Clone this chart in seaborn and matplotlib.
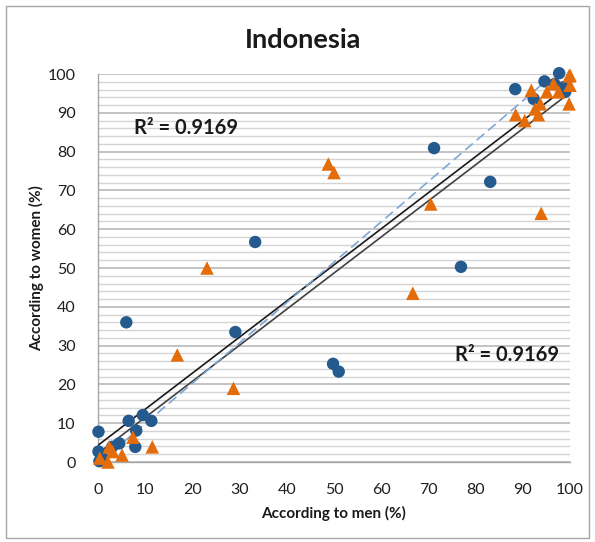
import matplotlib
matplotlib.use("Agg")
import matplotlib.pyplot as plt
import matplotlib.patches as patches
from matplotlib.ticker import MultipleLocator
import numpy as np
import pandas as pd
import seaborn as sns

# Series 1 (circles): reports of men vs. women
circle_men = [0.1, 0.1, 0.3, 6.0, 33.3, 29.1, 71.2, 83.1, 76.9, 49.8, 51.0, 88.4,
              97.7, 94.6, 96.7, 98.6, 92.3, 99.0, 6.5, 9.5, 11.3, 8.1, 7.9, 4.5, 3.0, 1.0]
circle_women = [7.8, 2.7, 0.2, 36.0, 56.7, 33.5, 80.9, 72.2, 50.3, 25.3, 23.3, 96.1,
                100.2, 98.1, 97.4, 96.6, 93.6, 95.4, 10.6, 12.1, 10.6, 8.1, 3.9, 4.8, 3.9, 1.0]

# Series 2 (triangles)
tri_men = [2.1, 0.4, 3.1, 2.4, 5.1, 7.4, 11.5, 16.8, 23.1, 28.7, 48.8, 50.0, 66.7, 70.5,
           93.9, 88.5, 90.4, 91.8, 92.6, 93.3, 93.7, 95.1, 96.5, 97.6, 99.8, 100.0, 100.0, 99.8]
tri_women = [0.0, 1.0, 2.7, 3.9, 1.8, 6.4, 3.9, 27.6, 50.0, 19.0, 76.8, 74.6, 43.5, 66.5,
             64.1, 89.5, 88.0, 95.8, 91.0, 89.5, 92.3, 95.4, 97.5, 95.4, 92.3, 99.7, 97.1, 99.5]

# Linear trend lines (intercept, slope, x-range)
trend_upper = (4.3, 0.93, [0, 100])
trend_lower = (2.2, 0.93, [0, 100])
trend_dashed = (-0.5, 1.04, [0.5, 95])
r2_label = "R\u00b2 = 0.9169"

x_ticks = list(range(0, 101, 10))
y_ticks = list(range(0, 101, 10))

BLUE = "#245a8e"
ORANGE = "#e46c0a"

sns.set_style("white")
plt.rcParams["font.family"] = ["Lato", "DejaVu Sans"]

fig = plt.figure(figsize=(5.95, 5.42), dpi=100)
ax = fig.add_axes([98 / 595, 1 - 462 / 542, 472 / 595, 388 / 542])

# gridlines
ax.set_xlim(0, 100)
ax.set_ylim(0, 100)
ax.yaxis.set_major_locator(MultipleLocator(10))
ax.yaxis.set_minor_locator(MultipleLocator(2))
ax.set_xticks(x_ticks)
ax.set_yticks(y_ticks)
ax.grid(False)
ax.grid(axis="y", which="minor", color="#d4d4d4", lw=1.0)
ax.grid(axis="y", which="major", color="#b3b3b3", lw=1.1)
ax.set_axisbelow(True)

for side in ("top", "right"):
    ax.spines[side].set_visible(False)
for side in ("left", "bottom"):
    ax.spines[side].set_color("#a6a6a6")
    ax.spines[side].set_linewidth(1.0)

ax.tick_params(axis="both", which="major", direction="out", length=5, width=1.0,
               color="#a6a6a6", labelsize=11.5, labelcolor="#1f1f1f", pad=4)
ax.tick_params(axis="both", which="minor", length=0)
ax.tick_params(axis="x", pad=10)
ax.tick_params(axis="y", pad=11)
ax.set_xticklabels([str(t) for t in x_ticks])
ax.set_yticklabels([str(t) for t in y_ticks])

# trend lines
for (b, m, xr), col, ls, lw in [
    (trend_upper, "#1a1a1a", "-", 1.2),
    (trend_lower, "#404040", "-", 1.2),
    (trend_dashed, "#7ea6d6", (0, (6, 3)), 1.2),
]:
    xs = np.array(xr, dtype=float)
    ax.plot(xs, b + m * xs, color=col, ls=ls, lw=lw, zorder=3)

# scatter series
df_c = pd.DataFrame({"men": circle_men, "women": circle_women})
df_t = pd.DataFrame({"men": tri_men, "women": tri_women})
sns.scatterplot(data=df_c, x="men", y="women", ax=ax, marker="o", s=80,
                color=BLUE, edgecolor="none", zorder=4, clip_on=False)
sns.scatterplot(data=df_t, x="men", y="women", ax=ax, marker="^", s=95,
                color=ORANGE, edgecolor="none", zorder=5, clip_on=False)

ax.set_xlim(0, 100)
ax.set_ylim(0, 100)
ax.set_xlabel("")
ax.set_ylabel("")

# R-squared labels
ax.text(7.6, 86.1, r2_label, fontsize=14.5, fontweight="bold", color="#1a1a1a",
        ha="left", va="center", zorder=6)
ax.text(75.6, 27.6, r2_label, fontsize=14.5, fontweight="bold", color="#1a1a1a",
        ha="left", va="center", zorder=6)

# titles and axis labels
fig.text(303 / 595, 1 - 40 / 542, "Indonesia", fontsize=19.5, fontweight="bold",
         color="#1a1a1a", ha="center", va="center")
fig.text(334 / 595, 1 - 513 / 542, "According to men (%)", fontsize=11,
         fontweight="bold", color="#1a1a1a", ha="center", va="center")
fig.text(37 / 595, 1 - 268 / 542, "According to women (%)", fontsize=11,
         fontweight="bold", color="#1a1a1a", ha="center", va="center", rotation=90)

# chart frame
fig.patches.append(patches.Rectangle((6 / 595, 4 / 542), 583 / 595, 532 / 542,
                                     transform=fig.transFigure, fill=False,
                                     edgecolor="#a6a6a6", lw=1.0))

fig.savefig("out.png", dpi=100)
